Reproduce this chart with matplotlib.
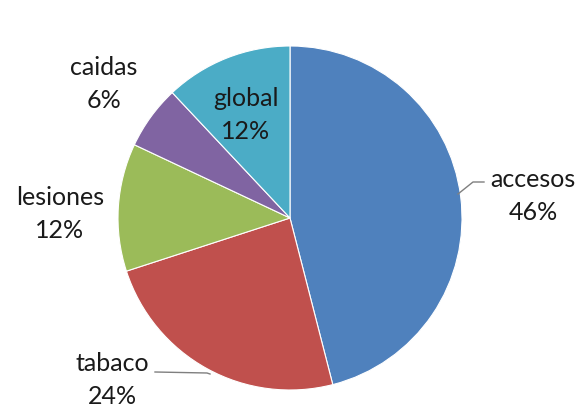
import matplotlib.pyplot as plt

labels = ["accesos", "tabaco", "lesiones", "caidas", "global"]
values = [46, 24, 12, 6, 12]
colors = ["#4F81BD", "#C0504D", "#9BBB59", "#8064A2", "#4BACC6"]

# label text placement (pixel coords, y measured from top)
label_pos = [(533, 196), (112, 380), (60, 214), (104, 84), (246, 115)]

W, H = 581, 410
fig = plt.figure(figsize=(W / 100, H / 100), dpi=100)
ax = fig.add_axes([0, 0, 1, 1])

cx, cy, r = 290, 219, 172
wedges, _ = ax.pie(values, colors=colors, startangle=-90, counterclock=True,
                   center=(cx, cy), radius=r, frame=True,
                   wedgeprops=dict(edgecolor="white", linewidth=0.8))
ax.set_xlim(0, W)
ax.set_ylim(H, 0)
ax.set_aspect("equal")
ax.axis("off")

for name, v, (tx, ty) in zip(labels, values, label_pos):
    ax.text(tx, ty, f"{name}\n{v}%", ha="center", va="center",
            fontsize=18, family=["Lato", "DejaVu Sans"], color="#1a1a1a",
            linespacing=1.55)

# leader lines for the two outer labels
ax.plot([458, 473, 484], [195, 183, 183], color="#7f7f7f", lw=1)
ax.plot([155, 207, 210], [373, 374, 375], color="#7f7f7f", lw=1)

fig.savefig("out.png", dpi=100)
